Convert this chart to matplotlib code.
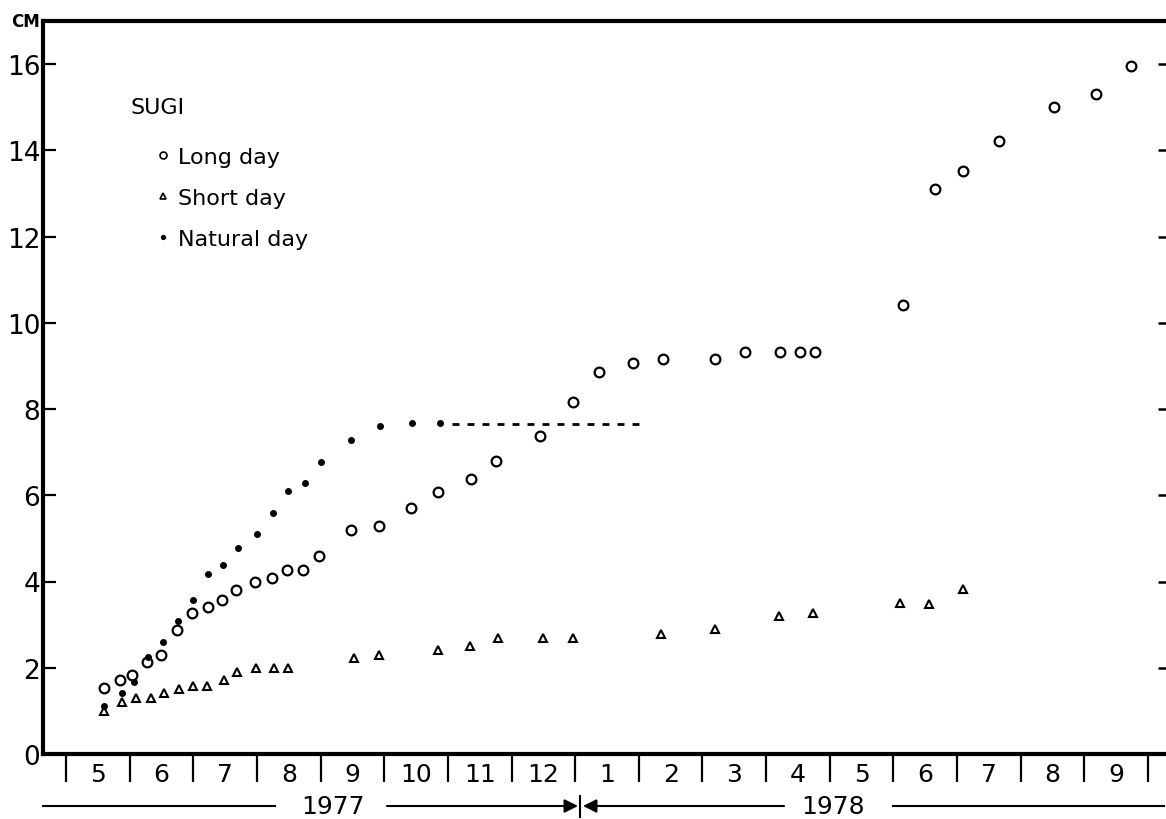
import numpy as np
import matplotlib
matplotlib.use('Agg')
import matplotlib.pyplot as plt
import matplotlib.transforms as mtransforms
from matplotlib.lines import Line2D

plt.rcParams['font.family'] = ['DejaVu Sans']

# ---------------- data (x in months since 1 May 1977, y in cm) ----------------
long_x = [0.59, 0.85, 1.04, 1.28, 1.50, 1.75, 1.98, 2.23, 2.45, 2.67, 2.97, 3.23,
          3.47, 3.73, 3.98, 4.47, 4.91, 5.42, 5.84, 6.37, 6.76, 7.45, 7.97, 8.38,
          8.91, 9.38, 10.20, 10.67, 11.21, 11.53, 11.77, 13.15, 13.66, 14.10,
          14.66, 15.52, 16.18, 16.73]
long_y = [1.53, 1.72, 1.84, 2.13, 2.30, 2.88, 3.27, 3.42, 3.58, 3.80, 3.98, 4.09,
          4.27, 4.27, 4.58, 5.20, 5.29, 5.70, 6.08, 6.37, 6.79, 7.37, 8.17, 8.85,
          9.06, 9.17, 9.17, 9.33, 9.33, 9.33, 9.33, 10.41, 13.11, 13.51,
          14.21, 15.01, 15.30, 15.96]

short_x = [0.60, 0.88, 1.10, 1.33, 1.54, 1.77, 2.00, 2.22, 2.49, 2.68, 2.99, 3.27,
           3.48, 4.53, 4.92, 5.85, 6.35, 6.79, 7.50, 7.97, 9.35, 10.20, 11.20,
           11.73, 13.10, 13.56, 14.10]
short_y = [1.00, 1.20, 1.30, 1.30, 1.41, 1.51, 1.57, 1.58, 1.72, 1.91, 1.99, 1.99,
           1.99, 2.22, 2.30, 2.41, 2.50, 2.69, 2.70, 2.70, 2.79, 2.90, 3.19,
           3.28, 3.49, 3.48, 3.83]

natural_x = [0.60, 0.88, 1.07, 1.29, 1.52, 1.76, 2.00, 2.23, 2.46, 2.71, 3.00,
             3.26, 3.49, 3.75, 4.00, 4.47, 4.94, 5.44, 5.88]
natural_y = [1.12, 1.41, 1.68, 2.24, 2.60, 3.08, 3.57, 4.17, 4.39, 4.78, 5.09,
             5.59, 6.09, 6.28, 6.76, 7.28, 7.60, 7.68, 7.68]

plateau_value = 7.66
plateau_start = 6.07
plateau_end = 9.06

month_labels = ['5', '6', '7', '8', '9', '10', '11', '12',
                '1', '2', '3', '4', '5', '6', '7', '8', '9']
year_labels = ['1977', '1978']
y_ticks = [0, 2, 4, 6, 8, 10, 12, 14, 16]

# ---------------- layout ----------------
W, H = 1166, 820
fig = plt.figure(figsize=(W / 100, H / 100), dpi=100)
left_px, right_px, top_px, bottom_px = 43, 1168, 22, 755
x0_px, px_per_month, px_per_cm = 66, 63.65, 43.125
ax = fig.add_axes([left_px / W, 1 - bottom_px / H,
                   (right_px - left_px) / W, (bottom_px - top_px) / H])
ax.set_xlim((left_px - x0_px) / px_per_month, (right_px - x0_px) / px_per_month)
ax.set_ylim(0, (bottom_px - top_px) / px_per_cm)

def mx(px):
    return (px - x0_px) / px_per_month

def ay(py):
    return (bottom_px - py) / (bottom_px - top_px)

for s in ['left', 'top', 'bottom']:
    ax.spines[s].set_linewidth(3)
ax.spines['right'].set_visible(False)

# x ticks: month boundaries (major), labels centred on months (minor)
ax.set_xticks(np.arange(len(month_labels) + 1))
ax.set_xticklabels([])
ax.set_xticks(np.arange(len(month_labels)) + 0.5, minor=True)
ax.set_xticklabels(month_labels, minor=True)
ax.tick_params(axis='x', which='major', direction='out', length=20, width=1.6)
ax.tick_params(axis='x', which='minor', length=0, pad=6, labelsize=18)

ax.set_yticks(y_ticks)
ax.set_yticklabels([str(v) for v in y_ticks])
ax.tick_params(axis='y', direction='in', length=9, width=1.6, labelsize=19, pad=2)

axr = ax.twinx()
axr.set_ylim(ax.get_ylim())
axr.set_yticks(y_ticks)
axr.tick_params(axis='y', direction='in', length=7, width=1.8, labelright=False)
for s in axr.spines.values():
    s.set_visible(False)

# ---------------- data marks ----------------
ax.plot(long_x, long_y, 'o', ms=7, mfc='white', mec='black', mew=1.6,
        ls='none', label='Long day', zorder=3)
ax.plot(short_x, short_y, '^', ms=6, mfc='white', mec='black', mew=1.5,
        ls='none', label='Short day', zorder=3)
ax.plot(natural_x, natural_y, 'o', ms=4, mfc='black', mec='black',
        ls='none', label='Natural day', zorder=4)
ax.plot([plateau_start, plateau_end], [plateau_value, plateau_value],
        color='black', lw=2, ls=(0, (2.5, 2.9)))

# ---------------- legend ----------------
ax.text(mx(130), 15.0, 'SUGI', fontsize=16, ha='left', va='center')
handles = [Line2D([], [], marker='o', ls='none', ms=5, mfc='white', mec='black', mew=1.2),
           Line2D([], [], marker='^', ls='none', ms=4.5, mfc='white', mec='black', mew=1.2),
           Line2D([], [], marker='o', ls='none', ms=2.8, mfc='black', mec='black')]
leg = ax.legend(handles, ['Long day', 'Short day', 'Natural day'],
                loc='upper left', bbox_to_anchor=(155 / W, 1 - 148 / H),
                bbox_transform=fig.transFigure, frameon=False, fontsize=16,
                handlelength=0.7, handletextpad=0.35, labelspacing=0.95,
                borderpad=0, borderaxespad=0, numpoints=1)

# ---------------- unit label ----------------
fig.text(25 / W, 1 - 22 / H, 'CM', fontsize=12, fontweight='bold',
         ha='center', va='center')

# ---------------- year annotation below axis ----------------
trans = mtransforms.blended_transform_factory(ax.transData, ax.transAxes)
yl = ay(807)
kw = dict(transform=trans, clip_on=False, color='black', lw=1.5)
ax.plot([mx(43), mx(275)], [yl, yl], **kw)
ax.plot([mx(893), mx(1164)], [yl, yl], **kw)
ax.plot([mx(580), mx(580)], [ay(797), ay(818)], **kw)
arrow = dict(arrowstyle='-|>', color='black', lw=1.5, mutation_scale=20,
             shrinkA=0, shrinkB=0)
ax.annotate('', xy=(mx(578), yl), xytext=(mx(387), yl), xycoords=trans,
            textcoords=trans, arrowprops=arrow, annotation_clip=False)
ax.annotate('', xy=(mx(583), yl), xytext=(mx(784), yl), xycoords=trans,
            textcoords=trans, arrowprops=arrow, annotation_clip=False)
ax.text(mx(333), yl, year_labels[0], transform=trans, fontsize=18,
        ha='center', va='center')
ax.text(mx(833), yl, year_labels[1], transform=trans, fontsize=18,
        ha='center', va='center')

fig.savefig('out.png', dpi=100, facecolor='white')
